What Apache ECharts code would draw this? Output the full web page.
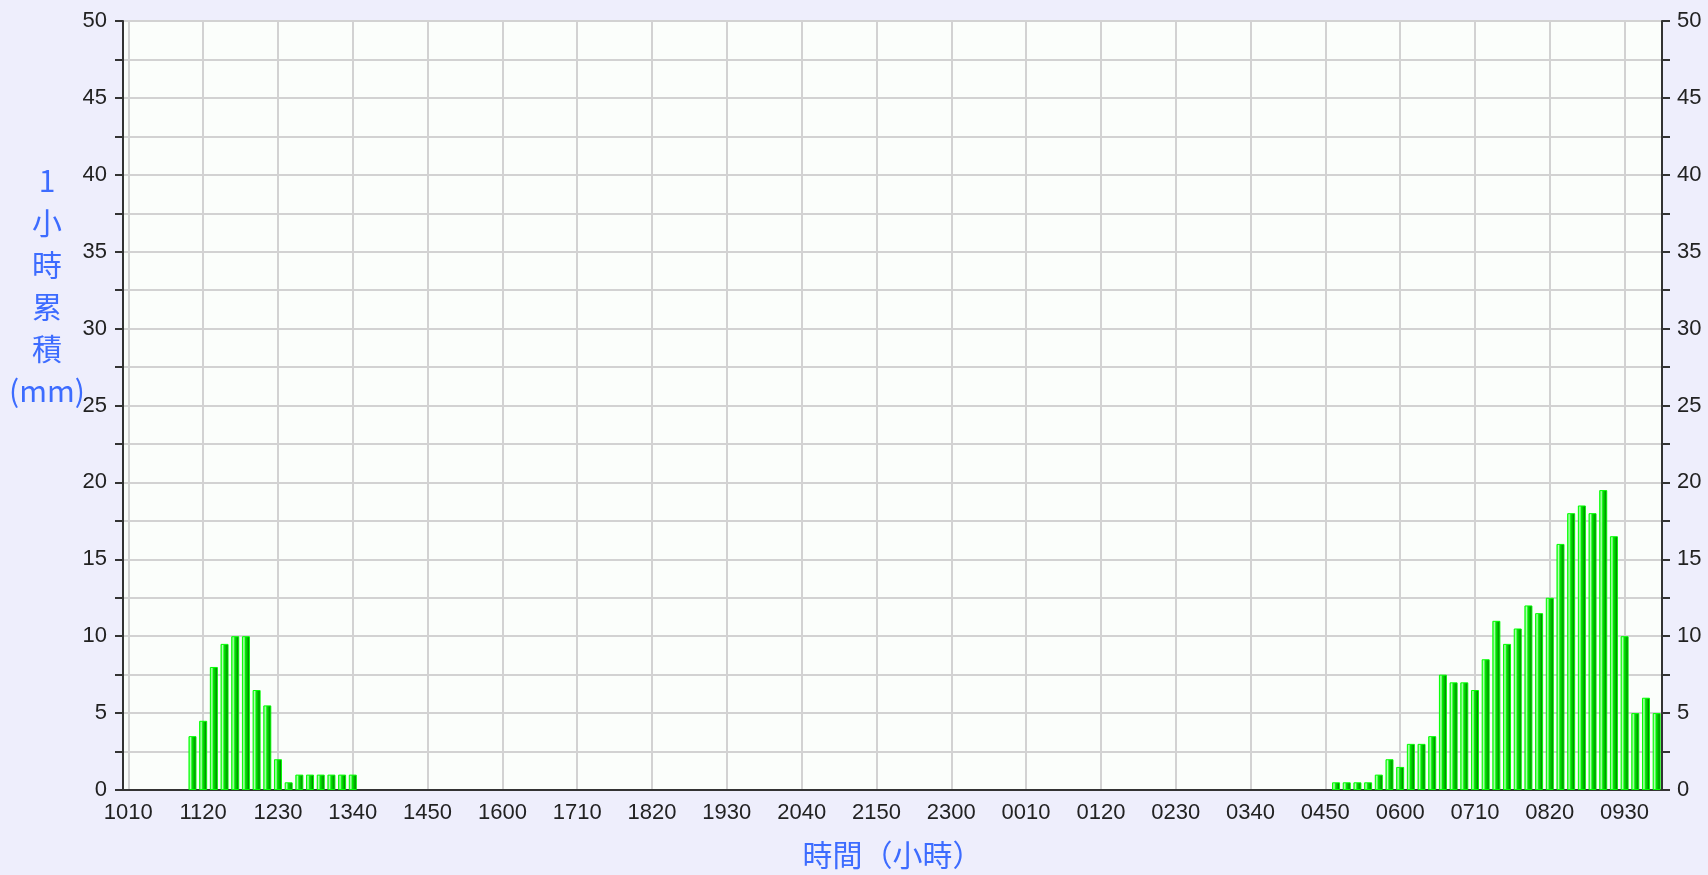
<!DOCTYPE html>
<html>
<head>
<meta charset="utf-8">
<title>1小時累積雨量</title>
<script src="https://cdn.jsdelivr.net/npm/echarts@6/dist/echarts.min.js"></script>
<style>
  html, body { margin: 0; padding: 0; background: #eeeefc; }
  #rain { width: 1708px; height: 875px; }
</style>
</head>
<body>
<div id="rain"></div>
<script>
  // 10-minute slots, 1010 through 1000 the next day
  const startHour = 10, startMin = 10, slotCount = 144;
  const times = [];
  for (let i = 0; i < slotCount; i++) {
    let m = startHour * 60 + startMin + i * 10;
    m = m % 1440;
    let h = Math.floor(m / 60), mm = m % 60;
    times.push(String(h).padStart(2, '0') + String(mm).padStart(2, '0'));
  }

  // 1110 - 1340
  const rainNoon = [3.5, 4.5, 8, 9.5, 10, 10, 6.5, 5.5, 2, 0.5, 1, 1, 1, 1, 1, 1];
  // 0500 - 1000
  const rainMorning = [0.5, 0.5, 0.5, 0.5, 1, 2, 1.5, 3, 3, 3.5, 7.5, 7, 7, 6.5, 8.5,
    11, 9.5, 10.5, 12, 11.5, 12.5, 16, 18, 18.5, 18, 19.5, 16.5, 10, 5, 6, 5];
  const rain = [].concat(Array(6).fill(0), rainNoon, Array(91).fill(0), rainMorning);

  const yTicks = { min: 0, max: 50, step: 2.5 };

  let chart = echarts.init(document.getElementById('rain'))
  window.addEventListener('resize', () => {
    chart.resize()
  })

  const labelStyle = {
    color: '#222',
    fontSize: 22,
    fontFamily: 'Liberation Sans, Arial, sans-serif'
  }
  const yLabel = (v) => (v % 5 === 0 ? String(v) : '')

  chart.setOption({
    backgroundColor: '#eeeefc',
    animation: false,
    grid: {
      left: 123,
      right: 46,
      top: 21,
      bottom: 84,
      show: true,
      backgroundColor: '#fbfefb',
      borderColor: '#333',
      borderWidth: 2
    },
    graphic: [{
      type: 'text',
      x: 47,
      y: 160,
      style: {
        text: '1\n小\n時\n累\n積\n(mm)',
        fill: '#3d6cff',
        font: '30px "Noto Sans CJK TC"',
        lineHeight: 42,
        align: 'center'
      }
    }],
    xAxis: [{
      type: 'category',
      data: times,
      boundaryGap: true,
      name: '時間（小時）',
      nameLocation: 'middle',
      nameGap: 50,
      nameTextStyle: {
        color: '#3d6cff',
        fontSize: 30,
        fontFamily: 'Noto Sans CJK TC'
      },
      axisLine: { lineStyle: { color: '#333', width: 2 } },
      axisTick: {
        interval: 6,
        alignWithLabel: true,
        length: 7,
        lineStyle: { color: '#333', width: 2 }
      },
      axisLabel: Object.assign({ interval: 6, margin: 12 }, labelStyle),
      splitLine: {
        show: true,
        interval: 6,
        alignWithLabel: true,
        lineStyle: { color: '#d2d2d2', width: 2 }
      }
    }],
    yAxis: [{
      type: 'value',
      position: 'left',
      min: yTicks.min,
      max: yTicks.max,
      interval: yTicks.step,
      axisLine: { show: true, lineStyle: { color: '#333', width: 2 } },
      axisTick: { show: true, length: 8, lineStyle: { color: '#333', width: 2 } },
      axisLabel: Object.assign({ margin: 16, formatter: yLabel }, labelStyle),
      splitLine: { lineStyle: { color: '#d2d2d2', width: 2 } }
    }, {
      type: 'value',
      position: 'right',
      min: yTicks.min,
      max: yTicks.max,
      interval: yTicks.step,
      axisLine: { show: true, lineStyle: { color: '#333', width: 2 } },
      axisTick: { show: true, length: 8, lineStyle: { color: '#333', width: 2 } },
      axisLabel: Object.assign({ margin: 15, formatter: yLabel }, labelStyle),
      splitLine: { show: false }
    }],
    series: [{
      type: 'bar',
      // empty slots are left blank instead of drawing a flat outline
      data: rain.map(v => (v === 0 ? '-' : v)),
      barWidth: 8,
      itemStyle: {
        borderColor: '#00ff00',
        borderWidth: 1,
        color: new echarts.graphic.LinearGradient(0, 0, 1, 0, [
          { offset: 0, color: '#00ff00' },
          { offset: 0.25, color: '#b8ffb8' },
          { offset: 0.45, color: '#00ee00' },
          { offset: 0.75, color: '#00a800' },
          { offset: 1, color: '#003a00' }
        ])
      }
    }]
  });
</script>
</body>
</html>
